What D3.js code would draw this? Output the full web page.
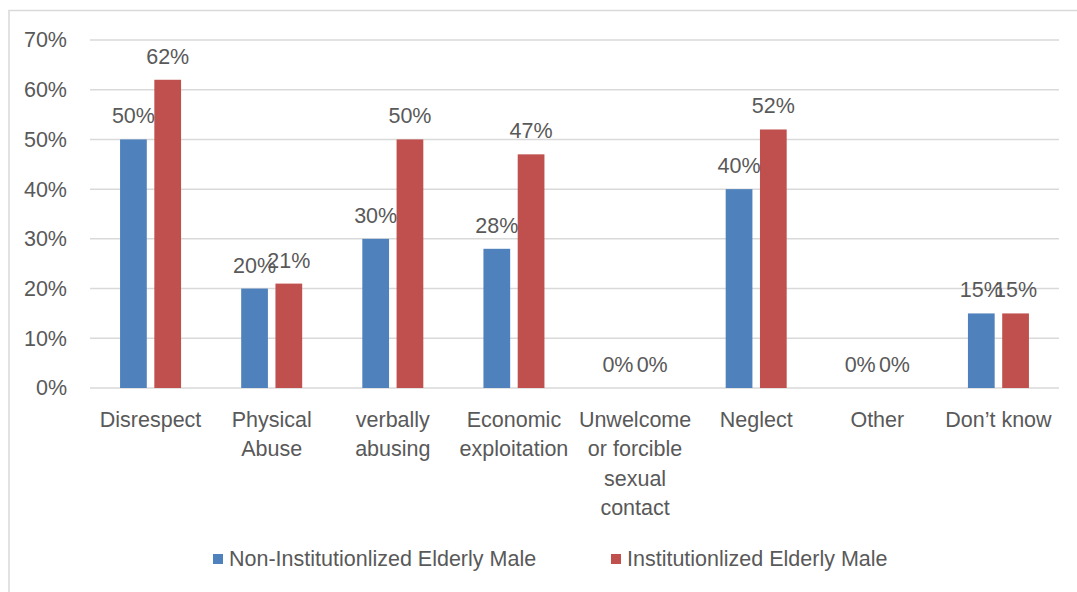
<!DOCTYPE html>
<html>
<head>
<meta charset="utf-8">
<script src="https://cdn.jsdelivr.net/npm/d3@7"></script>
<style>
  html, body { margin: 0; padding: 0; background: #fff; }
  svg { display: block; }
  text { font-family: "Liberation Sans", Arial, sans-serif; fill: #595959; }
</style>
</head>
<body>
<svg id="chart" width="1077" height="592"></svg>
<script>
// Forms of abuse reported by elderly men, by living situation
const categories = ["Disrespect", "Physical Abuse", "verbally abusing", "Economic exploitation",
  "Unwelcome or forcible sexual contact", "Neglect", "Other", "Don’t know"];
const seriesNames = ["Non-Institutionlized Elderly Male", "Institutionlized Elderly Male"];
const nonInstitutionalized = [50, 20, 30, 28, 0, 40, 0, 15];
const institutionalized = [62, 21, 50, 47, 0, 52, 0, 15];
const yTicks = [0, 10, 20, 30, 40, 50, 60, 70];
const colors = ["#4F81BD", "#C0504D"];

const FONT = 21.5;
const svg = d3.select("#chart");
const W = 1077, H = 592;
const plot = { left: 90, right: 1059, top: 40, bottom: 388 };

// outer frame
svg.append("rect")
  .attr("x", 9).attr("y", 10.5).attr("width", W + 10).attr("height", H + 10)
  .attr("fill", "none").attr("stroke", "#d9d9d9").attr("stroke-width", 1.5);

const y = d3.scaleLinear().domain([0, 70]).range([plot.bottom, plot.top]);
const x0 = d3.scaleBand().domain(categories).range([plot.left, plot.right]).padding(0);
const bw = x0.bandwidth();
const x1 = d3.scaleBand().domain(seriesNames)
  .range([bw / 2 - 30.5, bw / 2 + 30.5]).paddingInner(0.22).paddingOuter(0);

// gridlines
svg.append("g").selectAll("line").data(yTicks).join("line")
  .attr("x1", plot.left).attr("x2", plot.right)
  .attr("y1", d => y(d)).attr("y2", d => y(d))
  .attr("stroke", "#d9d9d9").attr("stroke-width", 1.5);

// y axis labels
const yAxis = d3.axisLeft(y).tickValues(yTicks).tickFormat(d => d + "%").tickSize(0).tickPadding(0);
const yg = svg.append("g").attr("transform", `translate(${plot.left - 23},0)`).call(yAxis);
yg.select(".domain").remove();
yg.selectAll("text").attr("font-size", FONT).attr("fill", "#595959")
  .style("font-family", "'Liberation Sans', Arial, sans-serif");

const data = categories.map((c, i) => ({
  category: c,
  values: [
    { series: seriesNames[0], value: nonInstitutionalized[i], color: colors[0] },
    { series: seriesNames[1], value: institutionalized[i], color: colors[1] }
  ]
}));

const groups = svg.append("g").selectAll("g").data(data).join("g")
  .attr("transform", d => `translate(${x0(d.category)},0)`);

groups.selectAll("rect").data(d => d.values).join("rect")
  .attr("x", d => x1(d.series))
  .attr("width", x1.bandwidth())
  .attr("y", d => y(d.value))
  .attr("height", d => y(0) - y(d.value))
  .attr("fill", d => d.color);

groups.selectAll("text.val").data(d => d.values).join("text")
  .attr("class", "val")
  .attr("x", d => x1(d.series) + x1.bandwidth() / 2)
  .attr("y", d => y(d.value) - 16)
  .attr("text-anchor", "middle")
  .attr("font-size", FONT)
  .text(d => d.value + "%");

// category labels, word-wrapped to the band width
const xAxisG = svg.append("g");
categories.forEach(c => {
  const cx = x0(c) + bw / 2;
  const t = xAxisG.append("text")
    .attr("x", cx)
    .attr("y", 420)
    .attr("text-anchor", "middle")
    .attr("dominant-baseline", "central")
    .attr("font-size", FONT);
  const words = c.split(" ");
  let line = [];
  let tspan = t.append("tspan").attr("x", cx).attr("dy", 0);
  words.forEach(w => {
    line.push(w);
    tspan.text(line.join(" "));
    if (tspan.node().getComputedTextLength() > bw - 2 && line.length > 1) {
      line.pop();
      tspan.text(line.join(" "));
      line = [w];
      tspan = t.append("tspan").attr("x", cx).attr("dy", 29.3).text(w);
    }
  });
});

// legend
const legendItems = [
  { name: seriesNames[0], color: colors[0], x: 213 },
  { name: seriesNames[1], color: colors[1], x: 611 }
];
const lg = svg.append("g").selectAll("g").data(legendItems).join("g")
  .attr("transform", d => `translate(${d.x},559)`);
lg.append("rect").attr("x", 0).attr("y", -5).attr("width", 10).attr("height", 10)
  .attr("fill", d => d.color);
lg.append("text").attr("x", 16).attr("y", 0).attr("dominant-baseline", "central")
  .attr("font-size", FONT).text(d => d.name);
</script>
</body>
</html>
